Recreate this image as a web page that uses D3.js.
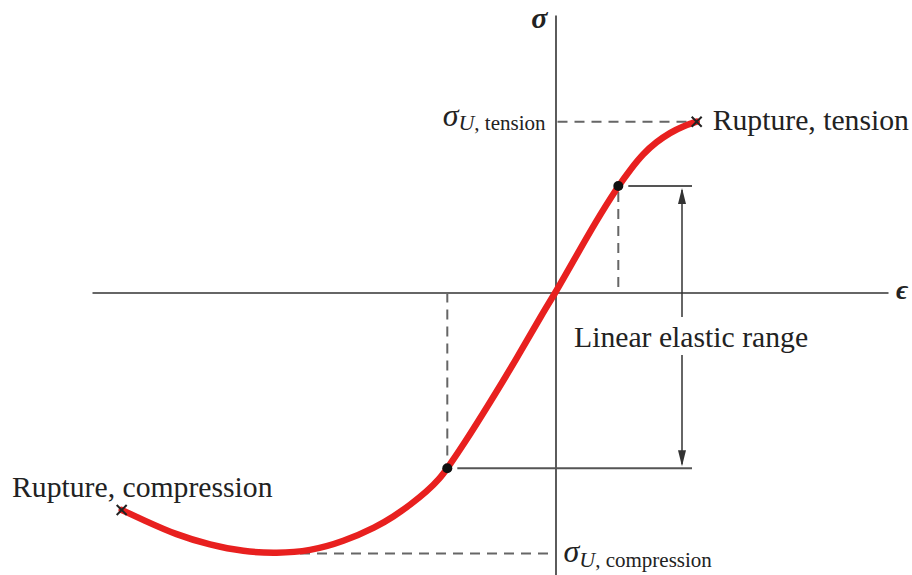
<!DOCTYPE html>
<html lang="en"><head>
<meta charset="utf-8">
<title>Stress-strain curve</title>
<script src="https://cdn.jsdelivr.net/npm/d3@7"></script>
<style>
  body { margin: 0; background: #fff; }
  text { font-family: "Liberation Serif", "DejaVu Serif", serif; fill: #222; }
</style>
</head>
<body>
<script type="text/javascript">

var width = 912;
var height = 575;

// curve (strain, stress) in arbitrary units
var strain = [-8.676, -8.244, -7.576, -6.91, -6.244, -5.576, -4.91, -4.244, -3.576, -3.244, -2.91, -2.576, -2.31, -2.164, -1.844, -1.31, -0.776, -0.244, 0, 0.29, 0.824, 1.256, 1.49, 1.756, 2.024, 2.29, 2.556, 2.824];
var stress = [-4.35, -4.55, -4.85, -5.05, -5.184, -5.216, -5.17, -4.984, -4.684, -4.484, -4.25, -3.984, -3.716, -3.516, -3.05, -2.20, -1.32, -0.39, 0, 0.51, 1.45, 2.13, 2.45, 2.78, 3.016, 3.196, 3.33, 3.416];

// elastic limits (the two dots)
var elasticStrain = [-2.164, 1.256];
var elasticStress = [-3.516, 2.13];

// ultimate stresses and rupture points
var sigmaUTension = 3.416;
var sigmaUCompression = -5.22;
var ruptureStrain = [-8.676, 2.824];
var ruptureStress = [-4.35, 3.416];
var minStrain = -5.45;

var rangeEnd = 2.73;   // right end of the elastic range guide lines
var arrowStrain = 2.53;

var svg = d3.select("body").append("svg")
            .attr("width", width)
            .attr("height", height);

var x = d3.scaleLinear().domain([-9.27, 6.65]).range([92, 888]);
var y = d3.scaleLinear().domain([-5.65, 5.55]).range([575, 15]);

// axes with no ticks
svg.append("g")
    .attr("transform", "translate(0," + y(0) + ")")
    .call(d3.axisBottom(x).tickValues([]).tickSizeOuter(0))
    .select(".domain").attr("stroke", "#333").attr("stroke-width", 1.6);

svg.append("g")
    .attr("transform", "translate(" + x(0) + ",0)")
    .call(d3.axisLeft(y).tickValues([]).tickSizeOuter(0))
    .select(".domain").attr("stroke", "#333").attr("stroke-width", 1.6);

var dash = { stroke: "#666", width: 2, array: "10,7" };

function line(x1, y1, x2, y2, dashed) {
    var l = svg.append("line")
        .attr("x1", x1).attr("y1", y1).attr("x2", x2).attr("y2", y2)
        .attr("stroke", dashed ? dash.stroke : "#555")
        .attr("stroke-width", dashed ? dash.width : 2);
    if (dashed) l.attr("stroke-dasharray", dash.array);
    return l;
}

// dashed guides to the ultimate stresses
line(x(0) + 2, y(sigmaUTension), x(ruptureStrain[1]) - 5, y(sigmaUTension), true);
line(x(minStrain), y(sigmaUCompression), x(0) - 2, y(sigmaUCompression), true);

// dashed drops from the elastic limits to the strain axis
line(x(elasticStrain[1]), y(elasticStress[1]) + 6, x(elasticStrain[1]), y(0), true);
line(x(elasticStrain[0]), y(0), x(elasticStrain[0]), y(elasticStress[0]) - 6, true);

// solid guide lines of the elastic range
line(x(elasticStrain[1]) + 10, y(elasticStress[1]), x(rangeEnd), y(elasticStress[1]), false);
line(x(elasticStrain[0]) + 10, y(elasticStress[0]), x(rangeEnd), y(elasticStress[0]), false);

// double arrow with a gap for the label
var ax = x(arrowStrain);
var gapTop = 317, gapBottom = 355;
line(ax, y(elasticStress[1]) + 4, ax, gapTop, false).attr("stroke", "#333").attr("stroke-width", 1.5);
line(ax, gapBottom, ax, y(elasticStress[0]) - 4, false).attr("stroke", "#333").attr("stroke-width", 1.5);
svg.append("path")
    .attr("d", "M" + ax + "," + (y(elasticStress[1]) + 2) + "l-4,16l8,0z")
    .attr("fill", "#333");
svg.append("path")
    .attr("d", "M" + ax + "," + (y(elasticStress[0]) - 2) + "l-4,-16l8,0z")
    .attr("fill", "#333");

// the curve
var pts = strain.map(function(e, i) { return [e, stress[i]]; });
svg.append("path")
    .datum(pts)
    .attr("fill", "none")
    .attr("stroke", "#e8201f")
    .attr("stroke-width", 6.5)
    .attr("stroke-linecap", "round")
    .attr("d", d3.line()
        .x(function(d) { return x(d[0]); })
        .y(function(d) { return y(d[1]); })
        .curve(d3.curveBasis));

// elastic limit dots
svg.selectAll("circle.lim")
    .data(elasticStrain)
    .enter()
    .append("circle")
    .attr("class", "lim")
    .attr("cx", function(d) { return x(d); })
    .attr("cy", function(d, i) { return y(elasticStress[i]); })
    .attr("r", 5)
    .attr("fill", "#111");

// rupture crosses
ruptureStrain.forEach(function(e, i) {
    var cx = x(e), cy = y(ruptureStress[i]), s = 5;
    svg.append("path")
        .attr("d", "M" + (cx - s) + "," + (cy - s) + "L" + (cx + s) + "," + (cy + s) +
                   "M" + (cx - s) + "," + (cy + s) + "L" + (cx + s) + "," + (cy - s))
        .attr("stroke", "#222")
        .attr("stroke-width", 2);
});

// labels
svg.append("text")
    .attr("x", x(0) - 8).attr("y", 28)
    .attr("text-anchor", "end")
    .style("font-size", "30px").style("font-style", "italic").style("font-weight", "bold")
    .text("σ");

svg.append("text")
    .attr("x", 896).attr("y", 299)
    .style("font-size", "28px").style("font-style", "italic").style("font-weight", "bold")
    .text("ϵ");

var tLab = svg.append("text")
    .attr("x", x(0) - 10).attr("y", y(sigmaUTension) + 4)
    .attr("text-anchor", "end");
tLab.append("tspan").style("font-size", "32px").style("font-style", "italic").text("σ");
tLab.append("tspan").attr("dy", 4).style("font-size", "22px").style("font-style", "italic").text("U");
tLab.append("tspan").style("font-size", "21px").text(", tension");

var cLab = svg.append("text")
    .attr("x", x(0) + 8).attr("y", y(sigmaUCompression) + 8);
cLab.append("tspan").style("font-size", "32px").style("font-style", "italic").text("σ");
cLab.append("tspan").attr("dy", 5).style("font-size", "22px").style("font-style", "italic").text("U");
cLab.append("tspan").style("font-size", "21px").text(", compression");

svg.append("text")
    .attr("x", x(ruptureStrain[1]) + 16).attr("y", y(ruptureStress[1]) + 8)
    .style("font-size", "29.7px")
    .text("Rupture, tension");

svg.append("text")
    .attr("x", 12).attr("y", 497)
    .style("font-size", "29.7px")
    .text("Rupture, compression");

svg.append("text")
    .attr("x", 574).attr("y", 347)
    .style("font-size", "29.7px")
    .text("Linear elastic range");

</script>
</body></html>
